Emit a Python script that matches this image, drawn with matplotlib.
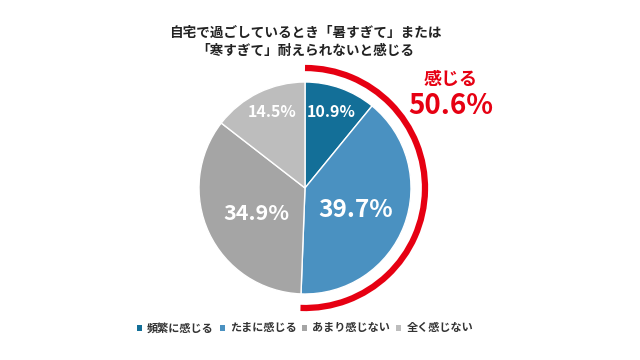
import matplotlib
matplotlib.use("Agg")
import matplotlib.pyplot as plt
from matplotlib.patches import Arc

plt.rcParams['font.family'] = ['Noto Sans CJK JP', 'DejaVu Sans']

categories = ['頻繁に感じる', 'たまに感じる', 'あまり感じない', '全く感じない']
values = [10.9, 39.7, 34.9, 14.5]
colors = ['#136f98', '#4a91c1', '#a5a5a5', '#bdbdbd']
title = '自宅で過ごしているとき「暑すぎて」または\n「寒すぎて」耐えられないと感じる'
highlight_label = '感じる'
highlight_value = values[0] + values[1]

W, H = 640, 360
fig = plt.figure(figsize=(6.4, 3.6), dpi=100)
ax = fig.add_axes([0, 0, 1, 1])

cx, cy, r = 305, H - 188, 106
wedges, texts, autotexts = ax.pie(
    values, colors=colors, startangle=90, counterclock=False,
    center=(cx, cy), radius=r, autopct=lambda p: f'{p:.1f}%',
    pctdistance=0.62, wedgeprops=dict(edgecolor='white', linewidth=1),
    frame=True)
ax.set_xlim(0, W)
ax.set_ylim(0, H)
ax.set_aspect('equal')
ax.axis('off')
sizes = [11.5, 17.5, 15.5, 11.5]
pos = [(331, H - 112), (356, H - 210), (256, H - 213), (272, H - 112)]
for t, s, p in zip(autotexts, sizes, pos):
    t.set_color('white')
    t.set_fontsize(s)
    t.set_fontweight('bold')
    t.set_position(p)
    t.set_ha('center'); t.set_va('center')

span = highlight_value / 100 * 360
arc = Arc((cx, cy), 2 * 120, 2 * 120, theta1=90 - span, theta2=90,
          color='#e60012', linewidth=4.5)
ax.add_patch(arc)

ax.text(451, H - 79, highlight_label, color='#e60012', fontsize=13,
        fontweight='bold', ha='center', va='center')
ax.text(451, H - 106, f'{highlight_value:.1f}%', color='#e60012', fontsize=20,
        fontweight='bold', ha='center', va='center')

ax.text(305, H - 42, title, ha='center', va='center', fontsize=9.8,
        fontweight='bold', color='#222222', linespacing=1.4)

leg = ax.legend(wedges, categories, loc='center', bbox_to_anchor=(305 / W, 1 - 328 / H),
                ncol=4, frameon=False, handlelength=0.45, handleheight=0.45,
                handletextpad=0.45, columnspacing=0.55, prop=dict(weight='bold', size=8))
for t in leg.get_texts():
    t.set_color('#333333')
for h in leg.legend_handles:
    h.set_edgecolor('none')

fig.savefig('out.png', dpi=100, facecolor='white')
